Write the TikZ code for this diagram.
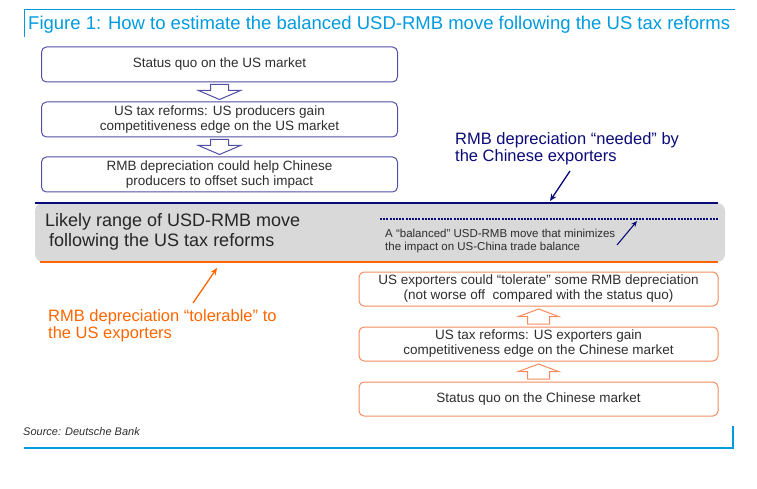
\documentclass[tikz,border=0pt]{standalone}
\usepackage{fontspec}
\setmainfont{Liberation Sans}
\usetikzlibrary{arrows.meta,calc}
\definecolor{dbblue}{RGB}{0,155,222}
\definecolor{navy}{RGB}{10,10,120}
\definecolor{boxnavy}{RGB}{80,80,165}
\definecolor{dborange}{RGB}{255,102,0}
\definecolor{boxorange}{RGB}{245,140,95}
\definecolor{bandgray}{RGB}{217,217,217}
\definecolor{txt}{RGB}{45,45,45}
\begin{document}
\begin{tikzpicture}[x=1pt,y=-1pt,
  flowbox/.style={draw, rounded corners=5pt, line width=1pt, minimum height=35pt,
    align=center, inner sep=0pt, text=txt, font=\fontsize{13.5}{15}\selectfont},
  lbox/.style={flowbox, draw=boxnavy, minimum width=356pt},
  rbox/.style={flowbox, draw=boxorange, minimum width=359pt, minimum height=34pt},
  lbl/.style={align=left, inner sep=0pt, anchor=west},
  downarrow/.pic={\draw[boxnavy, line width=1pt, line join=miter]
    (-9,-7.5) -- (9,-7.5) -- (9,-1.5) -- (21,-1.5) -- (0,7.5) -- (-21,-1.5) -- (-9,-1.5) -- cycle;},
  uparrow/.pic={\draw[boxorange, line width=1pt, line join=miter]
    (-11,7.5) -- (11,7.5) -- (11,0) -- (20,0) -- (0,-7.5) -- (-20,0) -- (-11,0) -- cycle;},
  ptr/.style={line width=1.3pt, -{Stealth[length=7pt,width=6pt]}}
]
\useasboundingbox (0,0) rectangle (757,489);

% title frame
\draw[dbblue, line width=1pt] (24,37) -- (24,10) -- (735,10);
\node[lbl, text=dbblue, font=\fontsize{18.5}{20}\selectfont] (title) at (28,25)
  {Figure 1: How to estimate the balanced USD-RMB move following the US tax reforms};

% left flow
\node[lbox] (l1) at (219.5,64.5) {Status quo on the US market};
\node[lbox] (l2) at (219.5,119.5) {US tax reforms: US producers gain\\competitiveness edge on the US market};
\node[lbox] (l3) at (219.5,174.5) {RMB depreciation could help Chinese\\producers to offset such impact};
\pic at ($(l1.south)!0.5!(l2.north)$) {downarrow};
\pic at ($(l2.south)!0.5!(l3.north)$) {downarrow};

% band
\node[fill=bandgray, rounded corners=8pt, minimum width=690pt, minimum height=59pt, inner sep=0pt] (band) at (380,232.5) {};
\coordinate (nl) at (35,202.5);
\coordinate (nr) at (718,202.5);
\coordinate (ol) at (40,262);
\coordinate (or) at (718,262);
\coordinate (dl) at (380,219);
\coordinate (dr) at (718,219);
\draw[navy, line width=2pt] (nl) -- (nr);
\draw[dborange, line width=2.5pt] (ol) -- (or);
\draw[navy, line width=1.6pt, dash pattern=on 2pt off 1.2pt] (dl) -- (dr);
\node[lbl, text=black!85, font=\fontsize{18}{20}\selectfont] (bandtxt) at (45,232)
  {Likely range of USD-RMB move\\\hspace*{4pt}following the US tax reforms};
\node[lbl, text=txt, font=\fontsize{11.5}{12.5}\selectfont] (baltxt) at (385,241)
  {A ``balanced'' USD-RMB move that minimizes\\the impact on US-China trade balance};

% labels and pointers
\node[lbl, text=navy, font=\fontsize{16.5}{17}\selectfont] (needed) at (455,148.5)
  {RMB depreciation ``needed'' by\\the Chinese exporters};
\node[lbl, text=dborange, font=\fontsize{16.5}{17}\selectfont] (toler) at (48,325.5)
  {RMB depreciation ``tolerable'' to\\the US exporters};
\coordinate (n0) at (570,171);
\coordinate (n1) at (550,201);
\coordinate (o0) at (193,303);
\coordinate (o1) at (217,268);
\coordinate (b0) at (617,245);
\coordinate (b1) at (637,221);
\draw[ptr, navy] (n0) -- (n1);
\draw[ptr, dborange] (o0) -- (o1);
\draw[navy, line width=1.1pt, -{Stealth[length=6pt,width=5pt]}] (b0) -- (b1);

% right flow
\node[rbox] (r1) at (538.5,289) {US exporters could ``tolerate'' some RMB depreciation\\(not worse off\ \ compared with the status quo)};
\node[rbox] (r2) at (538.5,344) {US tax reforms: US exporters gain\\competitiveness edge on the Chinese market};
\node[rbox] (r3) at (538.5,399) {Status quo on the Chinese market};
\pic at ($(r3.north)!0.5!(r2.south)$) {uparrow};
\pic at ($(r2.north)!0.5!(r1.south)$) {uparrow};

% source and bottom frame
\node[lbl, text=txt, font=\fontsize{11}{12}\selectfont\itshape] (src) at (23,432) {Source: Deutsche Bank};
\draw[dbblue, line width=1.5pt] (24,448) -- (733,448) -- (733,426);
\end{tikzpicture}
\end{document}
